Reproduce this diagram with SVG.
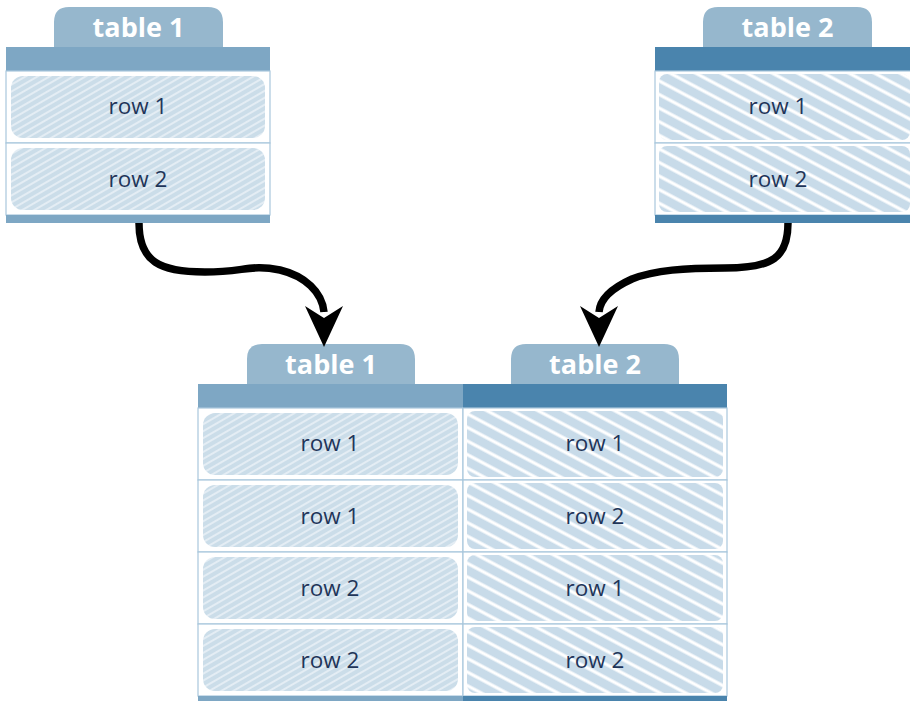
<svg xmlns="http://www.w3.org/2000/svg" width="910" height="701" viewBox="0 0 910 701">
<defs>
<pattern id="hatchA" patternUnits="userSpaceOnUse" width="6" height="6" patternTransform="rotate(-30)">
<rect width="6" height="6" fill="#cbdde9"/>
<line x1="0" y1="1" x2="6" y2="1" stroke="#ffffff" stroke-width="1.2" stroke-opacity="0.8"/>
</pattern>
<pattern id="hatchB" patternUnits="userSpaceOnUse" width="12" height="12" patternTransform="rotate(28)">
<rect width="12" height="12" fill="#c8dbe9"/>
<line x1="0" y1="2" x2="12" y2="2" stroke="#ffffff" stroke-width="3.2"/>
</pattern>
<style>
.tab{fill:#96b7cd}
.hdrA{fill:#7ea7c4}
.hdrB{fill:#4a84ad}
.cell{fill:#ffffff;stroke:#a9c7dc;stroke-width:1.2}
.fillA{fill:url(#hatchA)}
.fillB{fill:url(#hatchB)}
.tt{font-family:"Open Sans","Liberation Sans",sans-serif;font-weight:bold;font-size:27px;fill:#ffffff;text-anchor:middle}
.rt{font-family:"Open Sans","Liberation Sans",sans-serif;font-size:22.5px;fill:#1f3559;text-anchor:middle}
.arrow{fill:none;stroke:#000;stroke-width:7.5}
.ah{fill:#000}
</style>
</defs>

<g id="top-table-1">
<path class="tab" d="M54,47 V22 Q54,7 69,7 H208 Q223,7 223,22 V47 Z"/>
<text class="tt" x="138.5" y="37">table 1</text>
<rect class="hdrA" x="6" y="47" width="264" height="24"/>
<rect class="cell" x="6" y="71" width="264" height="72"/>
<rect class="cell" x="6" y="143" width="264" height="72"/>
<rect class="fillA" x="11" y="76" width="254" height="62" rx="12"/>
<rect class="fillA" x="11" y="148" width="254" height="62" rx="12"/>
<text class="rt" x="138" y="114">row 1</text>
<text class="rt" x="138" y="187">row 2</text>
<rect class="hdrA" x="6" y="215" width="264" height="8"/>
</g>

<g id="top-table-2">
<path class="tab" d="M703,47 V22 Q703,7 718,7 H857 Q872,7 872,22 V47 Z"/>
<text class="tt" x="787.5" y="37">table 2</text>
<rect class="hdrB" x="655" y="47" width="260" height="24"/>
<rect class="cell" x="655" y="71" width="260" height="72"/>
<rect class="cell" x="655" y="143" width="260" height="72"/>
<rect class="fillB" x="659" y="74" width="251" height="66" rx="8"/>
<rect class="fillB" x="659" y="146" width="251" height="66" rx="8"/>
<text class="rt" x="778" y="114">row 1</text>
<text class="rt" x="778" y="187">row 2</text>
<rect class="hdrB" x="655" y="215" width="260" height="8"/>
</g>

<g id="bottom-table-1">
<path class="tab" d="M247,384 V359 Q247,344 262,344 H400 Q415,344 415,359 V384 Z"/>
<text class="tt" x="331" y="374">table 1</text>
<rect class="hdrA" x="198" y="384" width="265" height="24"/>
<rect class="cell" x="198" y="408" width="265" height="72"/>
<rect class="cell" x="198" y="480" width="265" height="72"/>
<rect class="cell" x="198" y="552" width="265" height="72"/>
<rect class="cell" x="198" y="624" width="265" height="72"/>
<rect class="fillA" x="203" y="413" width="255" height="62" rx="12"/>
<rect class="fillA" x="203" y="485" width="255" height="62" rx="12"/>
<rect class="fillA" x="203" y="557" width="255" height="62" rx="12"/>
<rect class="fillA" x="203" y="629" width="255" height="62" rx="12"/>
<text class="rt" x="330" y="451">row 1</text>
<text class="rt" x="330" y="524">row 1</text>
<text class="rt" x="330" y="596">row 2</text>
<text class="rt" x="330" y="668">row 2</text>
<rect class="hdrA" x="198" y="696" width="265" height="5"/>
</g>

<g id="bottom-table-2">
<path class="tab" d="M511,384 V359 Q511,344 526,344 H664 Q679,344 679,359 V384 Z"/>
<text class="tt" x="595" y="374">table 2</text>
<rect class="hdrB" x="463" y="384" width="264" height="24"/>
<rect class="cell" x="463" y="408" width="264" height="72"/>
<rect class="cell" x="463" y="480" width="264" height="72"/>
<rect class="cell" x="463" y="552" width="264" height="72"/>
<rect class="cell" x="463" y="624" width="264" height="72"/>
<rect class="fillB" x="467" y="411" width="256" height="66" rx="8"/>
<rect class="fillB" x="467" y="483" width="256" height="66" rx="8"/>
<rect class="fillB" x="467" y="555" width="256" height="66" rx="8"/>
<rect class="fillB" x="467" y="627" width="256" height="66" rx="8"/>
<text class="rt" x="595" y="451">row 1</text>
<text class="rt" x="595" y="524">row 2</text>
<text class="rt" x="595" y="596">row 1</text>
<text class="rt" x="595" y="668">row 2</text>
<rect class="hdrB" x="463" y="696" width="264" height="5"/>
</g>

<g id="connectors">
<path class="arrow" d="M139,223 C139,262 160,272 205,272 C245,272 250,264 280,270 C305,276 322,292 324,312"/>
<path class="ah" d="M324,347 L305,306 L324,318 L343,306 Z"/>
<path class="arrow" d="M788,223 C788,258 772,268 725,268 C685,268 655,270 632,279 C612,288 600,298 599,312"/>
<path class="ah" d="M599,347 L580,306 L599,318 L618,306 Z"/>
</g>
</svg>
